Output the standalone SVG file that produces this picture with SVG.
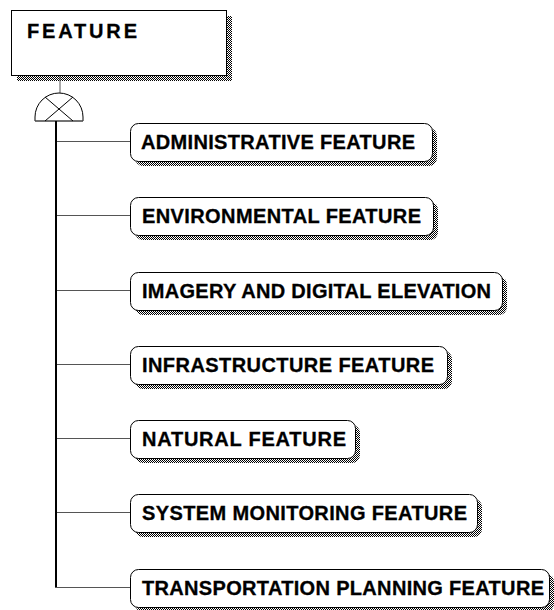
<svg xmlns="http://www.w3.org/2000/svg" width="554" height="610" viewBox="0 0 554 610">
<defs>
<pattern id="dots" width="2" height="2" patternUnits="userSpaceOnUse">
<rect width="2" height="2" fill="#fff"/>
<rect width="1" height="1" fill="#000"/>
<rect x="1" y="1" width="1" height="1" fill="#000"/>
</pattern>
<style>
.box{fill:#fff;stroke:#000;stroke-width:1}
.shadow{fill:url(#dots);stroke:none}
.conn{stroke:#555;stroke-width:1;fill:none}
text{fill:#000;stroke:#000;stroke-width:0.3}
</style>
</defs>
<rect width="554" height="610" fill="#fff"/>

<g id="feature">
<rect class="shadow" x="17" y="16" width="215" height="65"/>
<rect class="box" x="11.5" y="10.5" width="215" height="65"/>
<text x="27" y="38" font-family="Liberation Sans, Arial, sans-serif" font-weight="700" font-size="20" textLength="110" lengthAdjust="spacing">FEATURE</text>
</g>

<g id="connectors">
<line class="conn" x1="60" y1="76" x2="60" y2="93"/>
<path d="M35,121 L35,117 A24,24 0 0 1 83,117 L83,121 Z" fill="#fff" stroke="#000" stroke-width="1"/>
<line x1="35" y1="121" x2="83" y2="121" stroke="#666" stroke-width="1"/>
<line x1="45" y1="97" x2="73" y2="121" stroke="#000" stroke-width="1"/>
<line x1="73" y1="97" x2="45" y2="121" stroke="#000" stroke-width="1"/>
<line x1="56" y1="121" x2="56" y2="588" stroke="#000" stroke-width="2"/>
<line class="conn" x1="57" y1="141.5" x2="130" y2="141.5"/>
<line class="conn" x1="57" y1="215.5" x2="130" y2="215.5"/>
<line class="conn" x1="57" y1="290.5" x2="130" y2="290.5"/>
<line class="conn" x1="57" y1="364.5" x2="130" y2="364.5"/>
<line class="conn" x1="57" y1="438.5" x2="130" y2="438.5"/>
<line class="conn" x1="57" y1="512.5" x2="130" y2="512.5"/>
<line class="conn" x1="55" y1="587.5" x2="130" y2="587.5"/>
</g>

<g id="administrative">
<rect class="shadow" x="135" y="128" width="302" height="38" rx="8"/>
<rect class="box" x="130.5" y="123.5" width="302" height="38" rx="8"/>
<text x="141" y="149" font-family="Liberation Sans, Arial, sans-serif" font-weight="700" font-size="20" textLength="274" lengthAdjust="spacing">ADMINISTRATIVE FEATURE</text>
</g>

<g id="environmental">
<rect class="shadow" x="135" y="202" width="303" height="38" rx="8"/>
<rect class="box" x="130.5" y="197.5" width="303" height="38" rx="8"/>
<text x="142" y="223" font-family="Liberation Sans, Arial, sans-serif" font-weight="700" font-size="20" textLength="279" lengthAdjust="spacing">ENVIRONMENTAL FEATURE</text>
</g>

<g id="imagery">
<rect class="shadow" x="135" y="277" width="372" height="38" rx="8"/>
<rect class="box" x="130.5" y="272.5" width="372" height="38" rx="8"/>
<text x="142" y="298" font-family="Liberation Sans, Arial, sans-serif" font-weight="700" font-size="20" textLength="349" lengthAdjust="spacing">IMAGERY AND DIGITAL ELEVATION</text>
</g>

<g id="infrastructure">
<rect class="shadow" x="135" y="351" width="317" height="38" rx="8"/>
<rect class="box" x="130.5" y="346.5" width="317" height="38" rx="8"/>
<text x="142" y="372" font-family="Liberation Sans, Arial, sans-serif" font-weight="700" font-size="20" textLength="292" lengthAdjust="spacing">INFRASTRUCTURE FEATURE</text>
</g>

<g id="natural">
<rect class="shadow" x="135" y="425" width="225" height="38" rx="8"/>
<rect class="box" x="130.5" y="420.5" width="225" height="38" rx="8"/>
<text x="142" y="446" font-family="Liberation Sans, Arial, sans-serif" font-weight="700" font-size="20" textLength="204" lengthAdjust="spacing">NATURAL FEATURE</text>
</g>

<g id="system-monitoring">
<rect class="shadow" x="135" y="499" width="347" height="38" rx="8"/>
<rect class="box" x="130.5" y="494.5" width="347" height="38" rx="8"/>
<text x="142" y="520" font-family="Liberation Sans, Arial, sans-serif" font-weight="700" font-size="20" textLength="325" lengthAdjust="spacing">SYSTEM MONITORING FEATURE</text>
</g>

<g id="transportation-planning">
<rect class="shadow" x="135" y="574" width="419" height="38" rx="8"/>
<rect class="box" x="130.5" y="569.5" width="419" height="38" rx="8"/>
<text x="142" y="595" font-family="Liberation Sans, Arial, sans-serif" font-weight="700" font-size="20" textLength="402" lengthAdjust="spacing">TRANSPORTATION PLANNING FEATURE</text>
</g>
</svg>
